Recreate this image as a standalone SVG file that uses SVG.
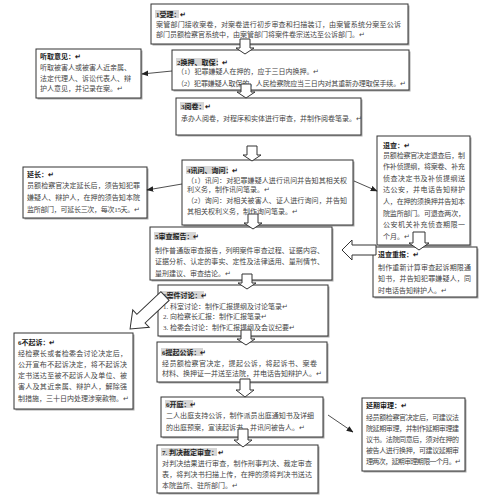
<svg xmlns="http://www.w3.org/2000/svg" width="496" height="500" viewBox="0 0 496 500">
<defs>
<style>
.box{fill:#fff;stroke:#333;stroke-width:1}
.sh{fill:#aaa}
.t{font-family:"Liberation Serif","Noto Sans CJK SC",sans-serif;font-size:7px;fill:#444}
.h{font-weight:bold;fill:#222}
.hl{fill:#d6d6d6}
.ba{fill:#fff;stroke:#333;stroke-width:1}
.ln{stroke:#222;stroke-width:0.8;fill:none;marker-end:url(#ah)}
</style>
<marker id="ah" viewBox="0 0 10 10" refX="9" refY="5" markerWidth="7" markerHeight="7" orient="auto" markerUnits="userSpaceOnUse"><path d="M0,1 L10,5 L0,9 Z" fill="#222"/></marker>
</defs>
<rect width="496" height="500" fill="#fff"/>

<g id="n1">
<rect class="sh" x="152.5" y="5.5" width="257" height="40"/>
<rect class="box" x="151" y="4" width="257" height="40"/>
<rect class="hl" x="155" y="10" width="24" height="8"/>
<text class="t h" x="156" y="16.5">1受理：↵</text>
<text class="t" x="156" y="27" textLength="245">案管部门接收案卷，对案卷进行初步审查和扫描装订，由案管系统分案至公诉</text>
<text class="t" x="156" y="37">部门员额检察官系统中，由案管部门将案件卷宗送达至公诉部门。↵</text>
</g>

<g id="n2">
<rect class="sh" x="173.5" y="51.5" width="237" height="40"/>
<rect class="box" x="172" y="50" width="237" height="40"/>
<rect class="hl" x="176" y="58" width="42" height="8"/>
<text class="t h" x="177" y="64.5">2换押、取保：↵</text>
<text class="t" x="177" y="74">（1）犯罪嫌疑人在押的，应于三日内换押。↵</text>
<text class="t" x="177" y="85.5" textLength="229">（2）犯罪嫌疑人取保的，人民检察院应当三日内对其重新办理取保手续。↵</text>
</g>

<g id="n-tingqu">
<rect class="sh" x="37.5" y="50.5" width="105" height="49"/>
<rect class="box" x="36" y="49" width="105" height="49"/>
<text class="t h" x="40" y="58.5">听取意见：↵</text>
<text class="t" x="40" y="69.5" textLength="91">听取被害人或被害人近亲属、</text>
<text class="t" x="40" y="80.5" textLength="91">法定代理人、诉讼代表人、辩</text>
<text class="t" x="40" y="90.5">护人意见，并记录在案。↵</text>
</g>

<g id="n3">
<rect class="sh" x="177.5" y="99.5" width="185" height="37"/>
<rect class="box" x="176" y="98" width="185" height="37"/>
<rect class="hl" x="180" y="102" width="24" height="8"/>
<text class="t h" x="181" y="108.5">3阅卷：↵</text>
<text class="t" x="181" y="120.5">承办人阅卷，对程序和实体进行审查，并制作阅卷笔录。↵</text>
</g>

<g id="n4">
<rect class="sh" x="183.5" y="161.5" width="171" height="65"/>
<rect class="box" x="182" y="160" width="171" height="65"/>
<rect class="hl" x="186" y="166" width="42" height="8"/>
<text class="t h" x="187" y="172.5">4讯问、询问：↵</text>
<text class="t" x="187" y="182.5" textLength="160">（1）讯问：对犯罪嫌疑人进行讯问并告知其相关权</text>
<text class="t" x="187" y="192">利义务，制作讯问笔录。↵</text>
<text class="t" x="187" y="203" textLength="160">（2）询问：对相关被害人、证人进行询问，并告知</text>
<text class="t" x="187" y="214">其相关权利义务，制作询问笔录。↵</text>
</g>

<g id="n-yanchang">
<rect class="sh" x="24.5" y="168.5" width="124" height="51"/>
<rect class="box" x="23" y="167" width="124" height="51"/>
<text class="t h" x="27" y="176.5">延长：↵</text>
<text class="t" x="27" y="187.5" textLength="113">员额检察官决定延长后，须告知犯罪</text>
<text class="t" x="27" y="199.5" textLength="113">嫌疑人、辩护人，在押的须告知本院</text>
<text class="t" x="27" y="212" textLength="113">监所部门，可延长三次，每次15天。↵</text>
</g>

<g id="n-tuicha">
<rect class="sh" x="378.5" y="137.5" width="93" height="109"/>
<rect class="box" x="377" y="136" width="93" height="109"/>
<text class="t h" x="383" y="147.5">退查：↵</text>
<text class="t" x="383" y="157.5" textLength="82">员额检察官决定退查后，制</text>
<text class="t" x="383" y="169.1" textLength="82">作补侦提纲，将案卷、补充</text>
<text class="t" x="383" y="180.7" textLength="82">侦查决定书及补侦提纲送</text>
<text class="t" x="383" y="192.3" textLength="82">达公安，并电话告知辩护</text>
<text class="t" x="383" y="203.9" textLength="82">人，在押的须换押并告知本</text>
<text class="t" x="383" y="215.5" textLength="82">院监所部门。可退查两次，</text>
<text class="t" x="383" y="227.1" textLength="82">公安机关补充侦查期限一</text>
<text class="t" x="383" y="238.7">个月。↵</text>
</g>

<g id="n-tuichachongbao">
<rect class="sh" x="374.5" y="248.5" width="104" height="50"/>
<rect class="box" x="373" y="247" width="104" height="50"/>
<text class="t h" x="378" y="256.5">退查重报：↵</text>
<text class="t" x="378" y="269.5" textLength="93">制作重新计算审查起诉期限通</text>
<text class="t" x="378" y="280.5" textLength="93">知书，并告知犯罪嫌疑人，同</text>
<text class="t" x="378" y="292.5">时电话告知辩护人。↵</text>
</g>

<g id="n5">
<rect class="sh" x="151.5" y="228.5" width="182" height="53"/>
<rect class="box" x="150" y="227" width="182" height="53"/>
<rect class="hl" x="154" y="232" width="42" height="8"/>
<text class="t h" x="155" y="238.5">5审查报告：↵</text>
<text class="t" x="155" y="252.5" textLength="169">制作普通版审查报告，列明案件审查过程、证据内容、</text>
<text class="t" x="155" y="263.5" textLength="169">证据分析、认定的事实、定性及法律适用、量刑情节、</text>
<text class="t" x="155" y="275.5">量刑建议、审查结论。↵</text>
</g>

<g id="n6">
<rect class="sh" x="159.5" y="286.5" width="170" height="51"/>
<rect class="box" x="158" y="285" width="170" height="51"/>
<rect class="hl" x="162" y="291" width="42" height="8"/>
<text class="t h" x="163" y="297.5">6案件讨论：↵</text>
<text class="t" x="163" y="308.5">1. 科室讨论：制作汇报提纲及讨论笔录↵</text>
<text class="t" x="163" y="319">2. 向检察长汇报：制作汇报笔录↵</text>
<text class="t" x="163" y="330">3. 检委会讨论：制作汇报提纲及会议纪要↵</text>
</g>

<g id="n-buqisu">
<rect class="sh" x="15.5" y="334.5" width="119" height="76"/>
<rect class="box" x="14" y="333" width="119" height="76"/>
<text class="t h" x="18" y="344.5">6不起诉：↵</text>
<text class="t" x="18" y="355.5" textLength="109">经检察长或者检委会讨论决定后，</text>
<text class="t" x="18" y="366.5" textLength="109">公开宣布不起诉决定，将不起诉决</text>
<text class="t" x="18" y="377.5" textLength="109">定书送达至被不起诉人及单位、被</text>
<text class="t" x="18" y="388.5" textLength="109">害人及其近亲属、辩护人，解除强</text>
<text class="t" x="18" y="400.5" textLength="111">制措施，三十日内处理涉案款物。↵</text>
</g>

<g id="n-tiqigongsu">
<rect class="sh" x="158.5" y="343.5" width="170" height="40"/>
<rect class="box" x="157" y="342" width="170" height="40"/>
<rect class="hl" x="161" y="348" width="42" height="8"/>
<text class="t h" x="162" y="354.5">6提起公诉：↵</text>
<text class="t" x="162" y="365.5" textLength="155">经员额检察官决定，提起公诉，将起诉书、案卷</text>
<text class="t" x="162" y="375.5" textLength="160">材料、换押证一并送至法院，并电话告知辩护人。↵</text>
</g>

<g id="n-kaiting">
<rect class="sh" x="162.5" y="398.5" width="162" height="40"/>
<rect class="box" x="161" y="397" width="162" height="40"/>
<rect class="hl" x="165" y="400" width="28" height="8"/>
<text class="t h" x="166" y="406.5">6开庭：↵</text>
<text class="t" x="166" y="417.5" textLength="148">二人出庭支持公诉，制作派员出庭通知书及详细</text>
<text class="t" x="166" y="429.5">的出庭预案，宣读起诉书，并讯问被告人。↵</text>
</g>

<g id="n-panjue">
<rect class="sh" x="158.5" y="446.5" width="161" height="48"/>
<rect class="box" x="157" y="445" width="161" height="48"/>
<rect class="hl" x="161" y="448" width="56" height="8"/>
<text class="t h" x="162" y="454.5">7. 判决裁定审查：↵</text>
<text class="t" x="162" y="465.5" textLength="150">对判决结果进行审查，制作刑事判决、裁定审查</text>
<text class="t" x="162" y="476.5" textLength="150">表，将判决书扫描上传，在押的须将判决书送达</text>
<text class="t" x="162" y="487.5">本院监所、驻所部门。↵</text>
</g>

<g id="n-yanqi">
<rect class="sh" x="363.5" y="399.5" width="103" height="73"/>
<rect class="box" x="362" y="398" width="103" height="73"/>
<text class="t h" x="366" y="407.5">延期审理：↵</text>
<text class="t" x="366" y="419.5" textLength="93">经员额检察官决定后，可建议法</text>
<text class="t" x="366" y="430.5" textLength="93">院延期审理，并制作延期审理建</text>
<text class="t" x="366" y="441.5" textLength="93">议书。法院同意后，须对在押的</text>
<text class="t" x="366" y="452.5" textLength="93">被告人进行换押，可建议延期审</text>
<text class="t" x="366" y="463.5" textLength="95">理两次，延期审理期限一个月。↵</text>
</g>

<g id="connectors">
<path class="ln" d="M172,71 L142,74"/>
<path class="ln" d="M182,184 L147,190"/>
<path class="ln" d="M354,181 L377,191"/>
<path class="ln" d="M328,415 L353,432"/>
<path class="ba" transform="translate(245,39)" d="M-5,0 H5 V9 H9 L0,15 L-9,9 H-5 Z"/>
<path class="ba" transform="translate(246,84)" d="M-5,0 H5 V8 H9 L0,14 L-9,8 H-5 Z"/>
<path class="ba" transform="translate(252,146)" d="M-5,0 H5 V9 H9 L0,15 L-9,9 H-5 Z"/>
<path class="ba" transform="translate(253,214)" d="M-5,0 H5 V9 H9 L0,15 L-9,9 H-5 Z"/>
<path class="ba" transform="translate(247,274)" d="M-5,0 H5 V9 H9 L0,15 L-9,9 H-5 Z"/>
<path class="ba" transform="translate(246,330)" d="M-5,0 H5 V9 H9 L0,15 L-9,9 H-5 Z"/>
<path class="ba" transform="translate(245,379)" d="M-5,0 H5 V11 H9 L0,18 L-9,11 H-5 Z"/>
<path class="ba" transform="translate(243,429)" d="M-5,0 H5 V11 H9 L0,18 L-9,11 H-5 Z"/>
<path class="ba" transform="translate(419,232)" d="M-6,0 H6 V11 H10 L0,18 L-10,11 H-6 Z"/>
<path class="ba" d="M376,245 H352 V240 L342,250 L352,260 V255 H376 Z"/>
<path class="ba" transform="translate(165,296) rotate(46.7)" d="M-6,0 H6 V33 H12 L0,48 L-12,33 H-6 Z"/>
</g>
</svg>
